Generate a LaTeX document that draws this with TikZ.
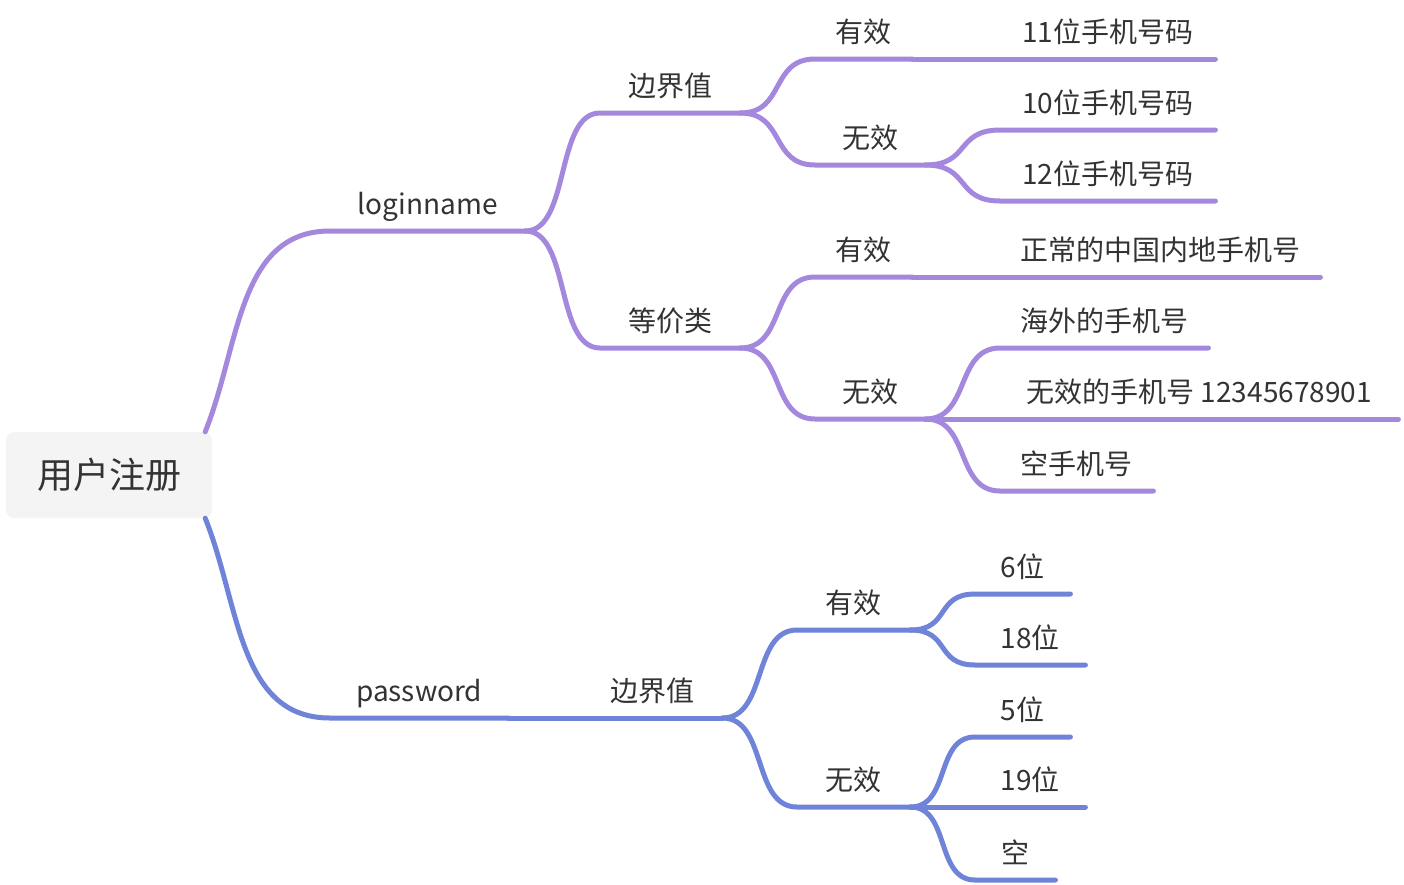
\documentclass[tikz,border=0pt]{standalone}
\usepackage{fontspec}
\setmainfont{Noto Sans CJK SC}
\usetikzlibrary{positioning}
\definecolor{loginline}{HTML}{A388DD}
\definecolor{pwdline}{HTML}{6F83D9}
\definecolor{rootfill}{HTML}{F4F4F4}
\definecolor{textgray}{HTML}{333333}

\begin{document}
\begin{tikzpicture}[x=1pt,y=-1pt,
    root/.style={rectangle, rounded corners=8pt, fill=rootfill, minimum width=206pt, minimum height=86pt, font=\fontsize{36}{40}\selectfont, text=textgray},
    topic/.style={anchor=south west, minimum width=#1, inner xsep=0pt, inner ysep=10pt, text height=20pt, text depth=6pt, font=\fontsize{28}{32}\selectfont, text=textgray},
    lline/.style={draw=loginline, line width=5pt, line cap=round},
    pline/.style={draw=pwdline, line width=5pt, line cap=round}
]
\useasboundingbox (0,0) rectangle (1404,884);

% ============== ROOT ==============
\node[root] (root) at (109,475) {用户注册};
\coordinate (rootUp) at ([xshift=-7pt]root.north east);
\coordinate (rootDown) at ([xshift=-7pt]root.south east);

% ============== LOGINNAME ==============
\node[topic=195pt] (login) at (330,231) {loginname};

\node[topic=140pt] (loginBound) at (600,113) {边界值};
\node[topic=97pt]  (boundValid) at (815,59) {有效};
\node[topic=110pt] (boundInvalid) at (815,165) {无效};
\node[topic=215pt] (phone11) at (1000,59) {11位手机号码};
\node[topic=215pt] (phone10) at (1000,130) {10位手机号码};
\node[topic=215pt] (phone12) at (1000,201) {12位手机号码};

\node[topic=140pt] (loginEquiv) at (600,348) {等价类};
\node[topic=97pt]  (equivValid) at (815,277) {有效};
\node[topic=110pt] (equivInvalid) at (815,419) {无效};
\node[topic=320pt] (phoneNormal) at (1000,277) {正常的中国内地手机号};
\node[topic=208pt] (phoneAbroad) at (1000,348) {海外的手机号};
\node[topic=398pt] (phoneBad) at (1000,419) {无效的手机号 12345678901};
\node[topic=153pt] (phoneEmpty) at (1000,491) {空手机号};

% ============== PASSWORD ==============
\node[topic=178pt] (pwd) at (330,718) {password};

\node[topic=140pt] (pwdBound) at (582,718) {边界值};
\node[topic=113pt] (pwdValid) at (797,630) {有效};
\node[topic=113pt] (pwdInvalid) at (797,807) {无效};
\node[topic=95pt]  (len6) at (975,594) {6位};
\node[topic=110pt] (len18) at (975,665) {18位};
\node[topic=95pt]  (len5) at (975,737) {5位};
\node[topic=110pt] (len19) at (975,807) {19位};
\node[topic=80pt]  (lenEmpty) at (975,880) {空};

% ============== BRANCHES: LOGINNAME ==============
\draw[lline] (rootUp) to[out=68,in=180] (login.south west) -- (login.south east);

\draw[lline] (login.south east) .. controls +(45,0) and +(-45,0) .. (loginBound.south west) -- (loginBound.south east);
\draw[lline] (login.south east) .. controls +(45,0) and +(-45,0) .. (loginEquiv.south west) -- (loginEquiv.south east);

\draw[lline] (loginBound.south east) .. controls +(45,0) and +(-45,0) .. (boundValid.south west) -- (boundValid.south east);
\draw[lline] (loginBound.south east) .. controls +(45,0) and +(-45,0) .. (boundInvalid.south west) -- (boundInvalid.south east);
\draw[lline] (boundValid.south east) -- (phone11.south west) -- (phone11.south east);
\draw[lline] (boundInvalid.south east) .. controls +(45,0) and +(-45,0) .. (phone10.south west) -- (phone10.south east);
\draw[lline] (boundInvalid.south east) .. controls +(45,0) and +(-45,0) .. (phone12.south west) -- (phone12.south east);

\draw[lline] (loginEquiv.south east) .. controls +(45,0) and +(-45,0) .. (equivValid.south west) -- (equivValid.south east);
\draw[lline] (loginEquiv.south east) .. controls +(45,0) and +(-45,0) .. (equivInvalid.south west) -- (equivInvalid.south east);
\draw[lline] (equivValid.south east) -- (phoneNormal.south west) -- (phoneNormal.south east);
\draw[lline] (equivInvalid.south east) .. controls +(45,0) and +(-45,0) .. (phoneAbroad.south west) -- (phoneAbroad.south east);
\draw[lline] (equivInvalid.south east) -- (phoneBad.south west) -- (phoneBad.south east);
\draw[lline] (equivInvalid.south east) .. controls +(45,0) and +(-45,0) .. (phoneEmpty.south west) -- (phoneEmpty.south east);

% ============== BRANCHES: PASSWORD ==============
\draw[pline] (rootDown) to[out=-68,in=180] (pwd.south west) -- (pwd.south east);
\draw[pline] (pwd.south east) -- (pwdBound.south west) -- (pwdBound.south east);

\draw[pline] (pwdBound.south east) .. controls +(45,0) and +(-45,0) .. (pwdValid.south west) -- (pwdValid.south east);
\draw[pline] (pwdBound.south east) .. controls +(45,0) and +(-45,0) .. (pwdInvalid.south west) -- (pwdInvalid.south east);

\draw[pline] (pwdValid.south east) .. controls +(40,0) and +(-40,0) .. (len6.south west) -- (len6.south east);
\draw[pline] (pwdValid.south east) .. controls +(40,0) and +(-40,0) .. (len18.south west) -- (len18.south east);
\draw[pline] (pwdInvalid.south east) .. controls +(40,0) and +(-40,0) .. (len5.south west) -- (len5.south east);
\draw[pline] (pwdInvalid.south east) -- (len19.south west) -- (len19.south east);
\draw[pline] (pwdInvalid.south east) .. controls +(40,0) and +(-40,0) .. (lenEmpty.south west) -- (lenEmpty.south east);

\end{tikzpicture}
\end{document}
